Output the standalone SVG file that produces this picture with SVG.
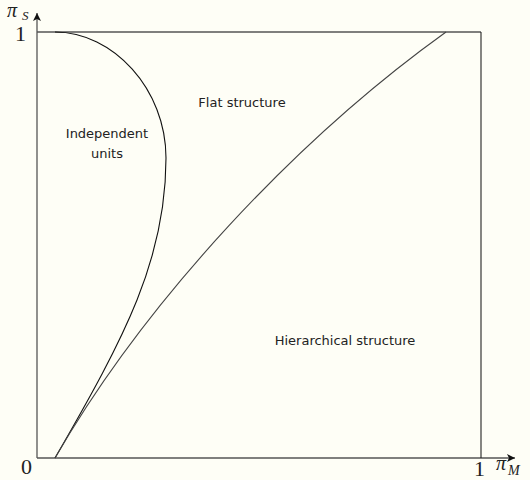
<svg xmlns="http://www.w3.org/2000/svg" width="530" height="480" viewBox="0 0 530 480">
<style>
.axis{stroke:#555;stroke-width:1.3;fill:none}
.edge{stroke:#222;stroke-width:1.1;fill:none}
.lbl{font-family:"DejaVu Sans","Liberation Sans",sans-serif;font-size:13px;fill:#222;text-anchor:middle}
.num{font-family:"Liberation Serif","DejaVu Serif",serif;font-size:22px;fill:#222}
.pi{font-family:"Liberation Serif","DejaVu Serif",serif;font-style:italic;fill:#222}
</style>
<defs>
<marker id="ah" viewBox="0 0 10 10" refX="10" refY="5" markerWidth="12" markerHeight="8" markerUnits="userSpaceOnUse" orient="auto">
<path d="M0,0 L10,5 L0,10 L2.5,5 Z" fill="#111"/>
</marker>
</defs>
<rect width="530" height="480" fill="#fefef6"/>
<g id="axes">
<line class="axis" x1="37" y1="458" x2="37" y2="13" marker-end="url(#ah)"/>
<line class="axis" x1="37" y1="458" x2="515" y2="458" marker-end="url(#ah)"/>
<line class="axis" x1="37" y1="32" x2="481" y2="32"/>
<line class="edge" x1="481" y1="32" x2="481" y2="458"/>
</g>
<g id="connectors">
<path id="curve-independent" d="M55,32 C113,32 166,89 166,158 C166,259 125.7,335.6 55,458" fill="none" stroke="#111" stroke-width="1.1"/>
<path id="curve-hierarchical" d="M55,458 C146.5,299.5 297,139 446,32" fill="none" stroke="#444" stroke-width="1.1"/>
</g>
<g id="labels">
<text class="pi" x="7" y="17" font-size="20">π</text>
<text class="pi" x="22" y="20" font-size="13">S</text>
<text class="num" x="15" y="41">1</text>
<text class="num" x="21" y="474">0</text>
<text class="num" x="474" y="476">1</text>
<text class="pi" x="496" y="470" font-size="20">π</text>
<text class="pi" x="508" y="475" font-size="14">M</text>
</g>
<g id="independent"><text class="lbl" x="107" y="138">Independent</text><text class="lbl" x="107" y="158">units</text></g>
<g id="flat"><text class="lbl" x="242" y="107">Flat structure</text></g>
<g id="hierarchical"><text class="lbl" x="345" y="345">Hierarchical structure</text></g>
</svg>
